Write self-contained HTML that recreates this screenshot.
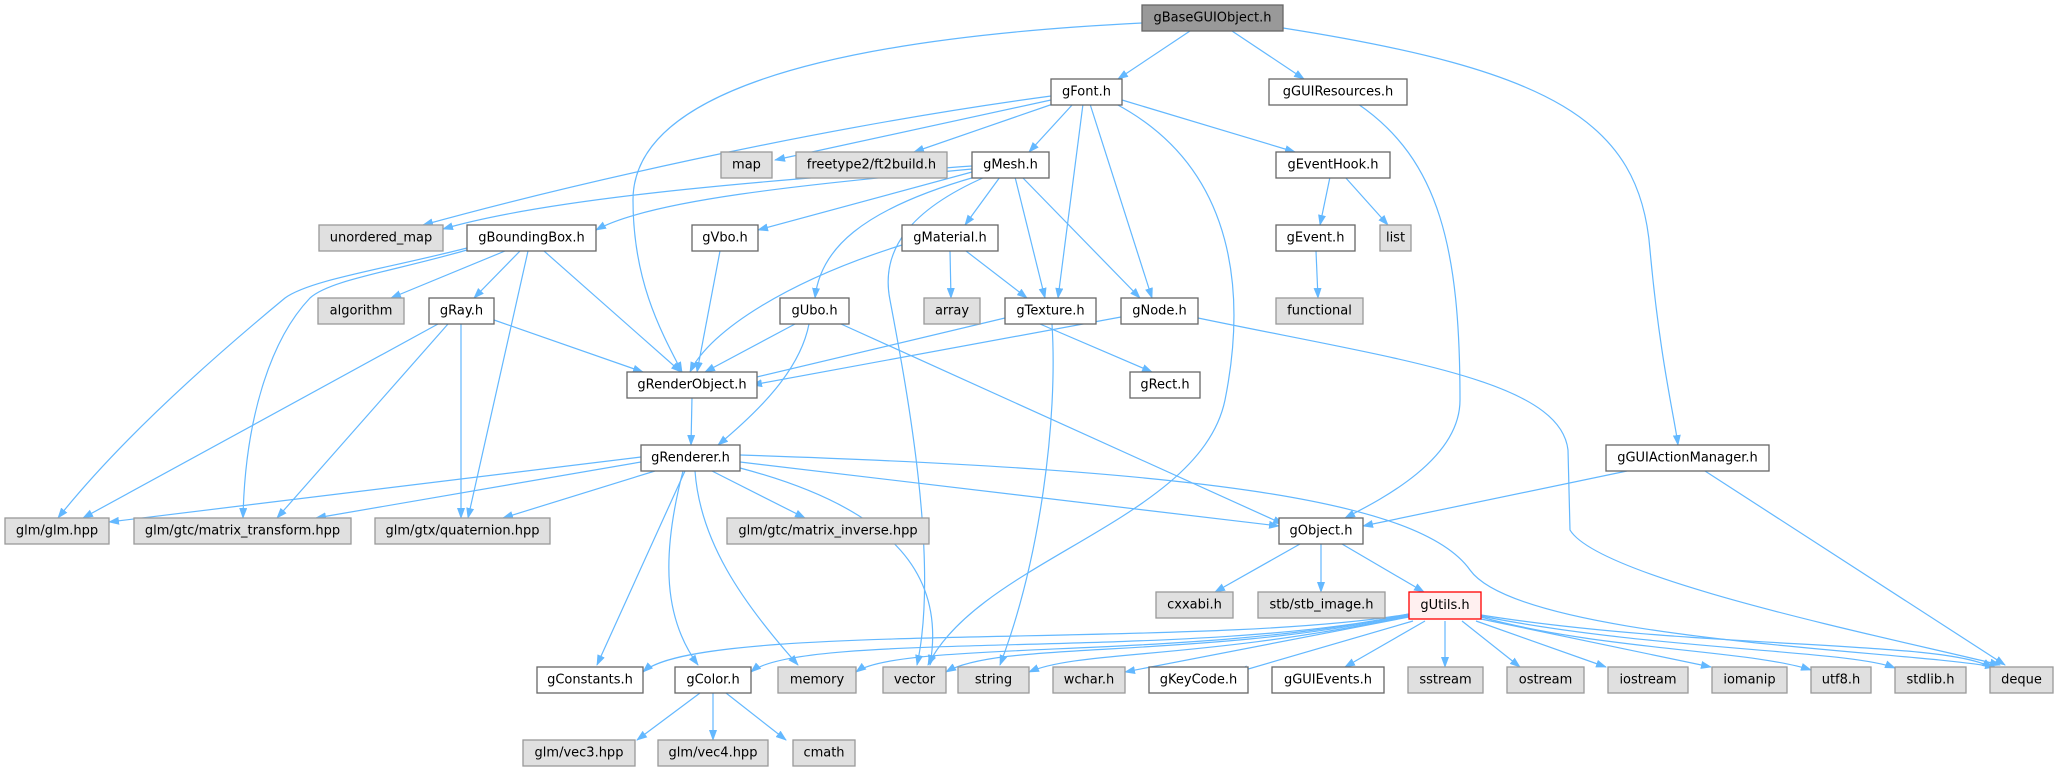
<!DOCTYPE html>
<html><head><meta charset="utf-8"><style>
html,body{margin:0;padding:0;background:#fff;}
svg{display:block}
text{font-family:"DejaVu Sans","Liberation Sans",sans-serif;font-size:13px;fill:#000;text-anchor:middle;dominant-baseline:central}
.e{fill:none;stroke:#63b8ff;stroke-width:1.2;marker-end:url(#a)}
.w{fill:#fff;stroke:#666;stroke-width:1.3}
.g{fill:#e0e0e0;stroke:#999;stroke-width:1.3}
</style></head><body>
<svg width="2058" height="769" viewBox="0 0 2058 769" xmlns="http://www.w3.org/2000/svg">
<defs><marker id="a" markerWidth="11" markerHeight="8" refX="10" refY="4" orient="auto" markerUnits="userSpaceOnUse"><path d="M0,0 L11,4 L0,8 z" fill="#63b8ff"/></marker></defs>
<g>
<path class="e" d="M1142,23 C800,40 633,100 633,200 C633,280 660,330 682,372"/>
<path class="e" d="M1190,31 L1118,79"/>
<path class="e" d="M1232,31 L1304,79"/>
<path class="e" d="M1283,28 C1550,70 1640,120 1650,250 C1660,360 1675,420 1678,445"/>
<path class="e" d="M1051,96 C800,130 550,190 423,225"/>
<path class="e" d="M1051,100 L775,160"/>
<path class="e" d="M1053,104 L914,152"/>
<path class="e" d="M1073,104 L1029,152"/>
<path class="e" d="M1083,104 L1058,298"/>
<path class="e" d="M1090,104 L1152,298"/>
<path class="e" d="M1116,104 C1240,170 1245,300 1225,400 C1200,520 980,560 928,665"/>
<path class="e" d="M1122,100 L1295,152"/>
<path class="e" d="M1358,104 C1440,160 1460,250 1460,400 C1460,460 1380,500 1345,518"/>
<path class="e" d="M1330,177 L1320,225"/>
<path class="e" d="M1345,177 L1388,225"/>
<path class="e" d="M1316,251 L1318,298"/>
<path class="e" d="M972,166 C800,178 560,195 443,229"/>
<path class="e" d="M972,169 C800,185 650,200 596,230"/>
<path class="e" d="M972,172 L758,230"/>
<path class="e" d="M975,177 C860,210 820,250 815,298"/>
<path class="e" d="M1000,177 L965,225"/>
<path class="e" d="M1015,177 L1045,298"/>
<path class="e" d="M1022,177 L1140,298"/>
<path class="e" d="M985,177 C910,210 880,250 890,300 C905,380 940,560 917,665"/>
<path class="e" d="M505,251 L391,298"/>
<path class="e" d="M520,251 L474,298"/>
<path class="e" d="M544,251 L681,372"/>
<path class="e" d="M467,248 C380,270 310,280 285,298 C210,360 120,440 58,518"/>
<path class="e" d="M467,250 C390,272 330,280 310,298 C270,340 245,420 243,518"/>
<path class="e" d="M528,251 L468,518"/>
<path class="e" d="M720,251 L697,372"/>
<path class="e" d="M902,245 C790,280 710,330 690,372"/>
<path class="e" d="M950,251 L951,298"/>
<path class="e" d="M966,251 L1027,298"/>
<path class="e" d="M438,324 L83,518"/>
<path class="e" d="M448,324 L277,518"/>
<path class="e" d="M461,324 L461,518"/>
<path class="e" d="M494,320 L643,372"/>
<path class="e" d="M795,324 L705,372"/>
<path class="e" d="M809,324 C800,370 760,410 718,445"/>
<path class="e" d="M841,324 L1283,524"/>
<path class="e" d="M1005,318 L740,381"/>
<path class="e" d="M1040,324 L1152,372"/>
<path class="e" d="M1052,324 C1058,420 1040,560 1000,665"/>
<path class="e" d="M1121,317 L752,385"/>
<path class="e" d="M1198,318 C1400,360 1560,380 1568,450 L1570,530 C1600,580 1900,640 2000,665"/>
<path class="e" d="M692,397 L691,445"/>
<path class="e" d="M641,457 L109,522"/>
<path class="e" d="M641,462 L316,518"/>
<path class="e" d="M655,471 L503,518"/>
<path class="e" d="M712,471 L805,518"/>
<path class="e" d="M685,471 L597,665"/>
<path class="e" d="M683,471 C660,560 665,620 698,665"/>
<path class="e" d="M695,471 C700,540 740,600 798,665"/>
<path class="e" d="M740,468 C900,510 945,580 930,665"/>
<path class="e" d="M740,462 L1279,526"/>
<path class="e" d="M740,455 C1200,470 1420,500 1470,570 C1520,640 1900,650 1995,667"/>
<path class="e" d="M1627,471 L1363,526"/>
<path class="e" d="M1705,471 L2005,665"/>
<path class="e" d="M1300,544 L1215,592"/>
<path class="e" d="M1321,544 L1321,592"/>
<path class="e" d="M1342,544 L1424,592"/>
<path class="e" d="M1409,614 C1200,650 700,620 643,672"/>
<path class="e" d="M1409,614 C1200,660 800,630 751,672"/>
<path class="e" d="M1409,614 C1200,660 900,640 856,672"/>
<path class="e" d="M1409,615 C1200,660 1000,640 946,672"/>
<path class="e" d="M1409,616 C1200,660 1080,650 1029,672"/>
<path class="e" d="M1409,617 L1125,672"/>
<path class="e" d="M1413,621 L1238,672"/>
<path class="e" d="M1425,621 L1345,667"/>
<path class="e" d="M1445,621 L1445,667"/>
<path class="e" d="M1462,621 L1520,667"/>
<path class="e" d="M1476,621 L1606,667"/>
<path class="e" d="M1481,619 L1711,667"/>
<path class="e" d="M1481,617 C1600,650 1750,650 1811,670"/>
<path class="e" d="M1481,616 C1650,650 1850,650 1895,668"/>
<path class="e" d="M1481,615 C1700,650 1950,640 1992,668"/>
<path class="e" d="M700,693 L637,740"/>
<path class="e" d="M713,693 L713,740"/>
<path class="e" d="M726,693 L786,740"/>
</g>
<g>
<rect x="1142" y="5" width="141" height="26" fill="#999" stroke="#666" stroke-width="1.3"/><text x="1212.5" y="18">gBaseGUIObject.h</text>
<rect class="w" x="1051" y="79" width="71" height="26"/><text x="1086.5" y="92">gFont.h</text>
<rect class="w" x="1269" y="79" width="138" height="26"/><text x="1338" y="92">gGUIResources.h</text>
<rect class="g" x="721" y="152" width="51" height="26"/><text x="746.5" y="165">map</text>
<rect class="g" x="796" y="152" width="151" height="26"/><text x="871.5" y="165">freetype2/ft2build.h</text>
<rect class="w" x="972" y="152" width="77" height="26"/><text x="1010.5" y="165">gMesh.h</text>
<rect class="w" x="1276" y="152" width="114" height="26"/><text x="1333" y="165">gEventHook.h</text>
<rect class="g" x="319" y="225" width="124" height="26"/><text x="381" y="238">unordered_map</text>
<rect class="w" x="467" y="225" width="129" height="26"/><text x="531.5" y="238">gBoundingBox.h</text>
<rect class="w" x="692" y="225" width="66" height="26"/><text x="725" y="238">gVbo.h</text>
<rect class="w" x="902" y="225" width="96" height="26"/><text x="950" y="238">gMaterial.h</text>
<rect class="w" x="1276" y="225" width="79" height="26"/><text x="1315.5" y="238">gEvent.h</text>
<rect class="g" x="1380" y="225" width="31" height="26"/><text x="1395.5" y="238">list</text>
<rect class="g" x="318" y="298" width="86" height="26"/><text x="361" y="311">algorithm</text>
<rect class="w" x="429" y="298" width="65" height="26"/><text x="461.5" y="311">gRay.h</text>
<rect class="w" x="780" y="298" width="69" height="26"/><text x="814.5" y="311">gUbo.h</text>
<rect class="g" x="924" y="298" width="56" height="26"/><text x="952" y="311">array</text>
<rect class="w" x="1005" y="298" width="91" height="26"/><text x="1050.5" y="311">gTexture.h</text>
<rect class="w" x="1121" y="298" width="77" height="26"/><text x="1159.5" y="311">gNode.h</text>
<rect class="g" x="1276" y="298" width="87" height="26"/><text x="1319.5" y="311">functional</text>
<rect class="w" x="627" y="372" width="130" height="26"/><text x="692" y="385">gRenderObject.h</text>
<rect class="w" x="1130" y="372" width="70" height="26"/><text x="1165" y="385">gRect.h</text>
<rect class="w" x="641" y="445" width="99" height="26"/><text x="690.5" y="458">gRenderer.h</text>
<rect class="w" x="1606" y="445" width="163" height="26"/><text x="1687.5" y="458">gGUIActionManager.h</text>
<rect class="g" x="5" y="518" width="104" height="26"/><text x="57" y="531">glm/glm.hpp</text>
<rect class="g" x="134" y="518" width="217" height="26"/><text x="242.5" y="531">glm/gtc/matrix_transform.hpp</text>
<rect class="g" x="375" y="518" width="175" height="26"/><text x="462.5" y="531">glm/gtx/quaternion.hpp</text>
<rect class="g" x="727" y="518" width="202" height="26"/><text x="828" y="531">glm/gtc/matrix_inverse.hpp</text>
<rect class="w" x="1279" y="518" width="84" height="26"/><text x="1321" y="531">gObject.h</text>
<rect class="g" x="1156" y="592" width="77" height="26"/><text x="1194.5" y="605">cxxabi.h</text>
<rect class="g" x="1258" y="592" width="127" height="26"/><text x="1321.5" y="605">stb/stb_image.h</text>
<rect x="1409" y="592" width="72" height="27" fill="#fff0f0" stroke="#f00" stroke-width="1.3"/><text x="1445" y="605.5">gUtils.h</text>
<rect class="w" x="537" y="667" width="106" height="26"/><text x="590" y="680">gConstants.h</text>
<rect class="w" x="675" y="667" width="76" height="26"/><text x="713" y="680">gColor.h</text>
<rect class="g" x="778" y="667" width="78" height="26"/><text x="817" y="680">memory</text>
<rect class="g" x="883" y="667" width="63" height="26"/><text x="914.5" y="680">vector</text>
<rect class="g" x="958" y="667" width="71" height="26"/><text x="993.5" y="680">string</text>
<rect class="g" x="1053" y="667" width="72" height="26"/><text x="1089" y="680">wchar.h</text>
<rect class="w" x="1149" y="667" width="99" height="26"/><text x="1198.5" y="680">gKeyCode.h</text>
<rect class="w" x="1272" y="667" width="112" height="26"/><text x="1328" y="680">gGUIEvents.h</text>
<rect class="g" x="1408" y="667" width="75" height="26"/><text x="1445.5" y="680">sstream</text>
<rect class="g" x="1507" y="667" width="77" height="26"/><text x="1545.5" y="680">ostream</text>
<rect class="g" x="1608" y="667" width="80" height="26"/><text x="1648" y="680">iostream</text>
<rect class="g" x="1712" y="667" width="75" height="26"/><text x="1749.5" y="680">iomanip</text>
<rect class="g" x="1811" y="667" width="60" height="26"/><text x="1841" y="680">utf8.h</text>
<rect class="g" x="1895" y="667" width="71" height="26"/><text x="1930.5" y="680">stdlib.h</text>
<rect class="g" x="1990" y="667" width="63" height="26"/><text x="2021.5" y="680">deque</text>
<rect class="g" x="523" y="740" width="112" height="26"/><text x="579" y="753">glm/vec3.hpp</text>
<rect class="g" x="658" y="740" width="110" height="26"/><text x="713" y="753">glm/vec4.hpp</text>
<rect class="g" x="793" y="740" width="62" height="26"/><text x="824" y="753">cmath</text>
</g>
</svg>
</body></html>
